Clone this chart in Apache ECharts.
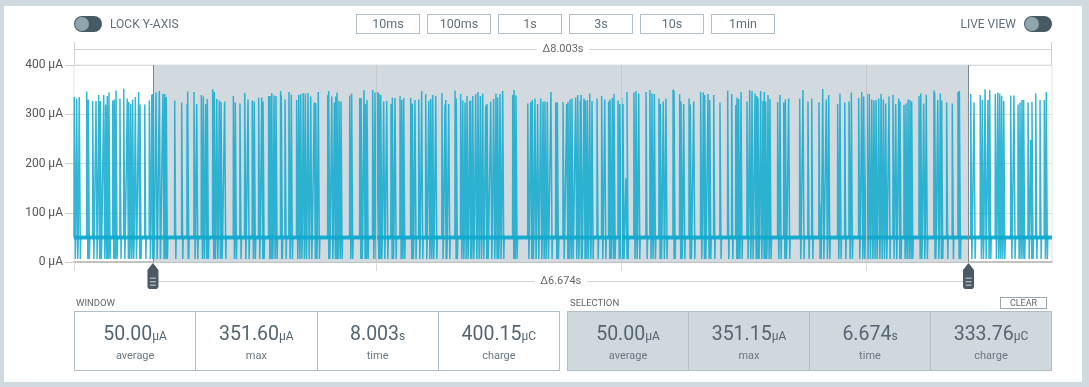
<!DOCTYPE html>
<html><head><meta charset="utf-8">
<script src="https://cdn.jsdelivr.net/npm/echarts@6/dist/echarts.min.js"></script>
<style>
html,body{margin:0;padding:0}
body{width:1089px;height:387px;background:#d0d9de;font-family:Roboto,"Noto Sans",sans-serif;overflow:hidden;position:relative}
#panel{position:absolute;left:4px;top:6px;width:1078px;height:376px;background:#fff}
#chart{position:absolute;left:0;top:0;width:1089px;height:387px}
.ui{position:absolute;z-index:5}
.toggle{position:absolute;width:28px;height:16px;border-radius:8px;background:#455a64;top:16px}
.knob{position:absolute;left:1px;top:1px;width:14px;height:14px;border-radius:50%;background:#90a4ae}
.tlabel{position:absolute;top:16px;line-height:16px;font-size:12px;color:#5f6f7a}
.btn{position:absolute;top:14px;width:64px;height:20px;box-sizing:border-box;border:1px solid #b0bec5;font-size:12.5px;color:#5f6f7a;text-align:center;line-height:18px}
.slabel{position:absolute;top:297px;font-size:9.5px;color:#666;line-height:12px}
.box{position:absolute;top:311px;height:60px;box-sizing:border-box;border:1px solid #b0bec5;display:flex}
.cell{flex:1;text-align:center;border-left:1px solid #b0bec5;position:relative}
.cell:first-child{border-left:none}
.val{position:absolute;left:0;right:0;top:10px;font-size:19.5px;color:#55656f;line-height:24px}
.val span{font-size:12px}
.lab{position:absolute;left:0;right:0;top:37px;font-size:11px;color:#6a7780;line-height:14px}
.clear{position:absolute;left:1000px;top:297px;width:47px;height:12px;box-sizing:border-box;border:1px solid #9aa6ad;font-size:9px;color:#666;text-align:center;line-height:10px}
</style></head>
<body>
<div id="panel"></div>
<div id="chart"></div>
<div class="ui" style="left:0;top:0;width:1089px;height:387px;pointer-events:none">
  <div class="toggle" style="left:74px"><div class="knob"></div></div>
  <div class="tlabel" style="left:110px">LOCK Y-AXIS</div>
  <div class="tlabel" style="right:73px">LIVE VIEW</div>
  <div class="toggle" style="left:1024px"><div class="knob"></div></div>
  <div id="btns"></div>
  <div class="slabel" style="left:76px">WINDOW</div>
  <div class="box" id="winBox" style="left:74px;width:486px"></div>
  <div class="slabel" style="left:570px">SELECTION</div>
  <div class="clear">CLEAR</div>
  <div class="box" id="selBox" style="left:567px;width:485px;background:#cfd8dc"></div>
</div>
<script>
// ---- data ----
const windowDuration = 8.003;          // s
const selectionStart = 0.646;          // s
const selectionDuration = 6.674;       // s
const baselineUA = 50;                 // µA
const dipUA = 6;                       // µA
const yTicks = [0, 100, 200, 300, 400];
const gridTimes = [2.471, 4.476, 6.481];
const zoomButtons = ['10ms','100ms','1s','3s','10s','1min'];
const windowStats = [['50.00','µA','average'],['351.60','µA','max'],['8.003','s','time'],['400.15','µC','charge']];
const selectionStats = [['50.00','µA','average'],['351.15','µA','max'],['6.674','s','time'],['333.76','µC','charge']];

const spikeT = [0.002,0.022,0.043,0.104,0.117,0.153,0.180,0.202,0.215,0.243,
0.259,0.272,0.286,0.317,0.330,0.344,0.376,0.407,0.436,0.448,
0.464,0.480,0.502,0.529,0.540,0.579,0.616,0.636,0.644,0.671,
0.698,0.728,0.742,0.755,0.824,0.881,0.925,0.930,0.982,1.004,
1.042,1.058,1.078,1.091,1.135,1.148,1.168,1.189,1.203,1.233,
1.304,1.320,1.358,1.397,1.424,1.459,1.475,1.511,1.536,1.547,
1.593,1.604,1.618,1.637,1.653,1.691,1.696,1.727,1.759,1.778,
1.822,1.839,1.855,1.876,1.893,1.915,1.937,1.966,1.978,1.999,
2.076,2.084,2.109,2.130,2.142,2.152,2.169,2.185,2.256,2.272,
2.338,2.349,2.373,2.384,2.398,2.444,2.463,2.485,2.496,2.510,
2.534,2.559,2.594,2.605,2.627,2.668,2.682,2.698,2.755,2.768,
2.790,2.821,2.845,2.878,2.903,2.919,2.935,2.960,3.011,3.036,
3.042,3.066,3.118,3.128,3.164,3.181,3.200,3.216,3.238,3.246,
3.263,3.287,3.306,3.325,3.344,3.369,3.380,3.410,3.434,3.453,
3.467,3.486,3.508,3.590,3.601,3.617,3.713,3.737,3.750,3.772,
3.794,3.819,3.838,3.854,3.873,3.903,3.942,3.955,4.002,
4.032,4.042,4.059,4.075,4.105,4.122,4.143,4.149,4.173,4.184,
4.200,4.220,4.239,4.280,4.318,4.343,4.375,4.386,4.405,4.419,
4.452,4.466,4.482,4.492,4.517,4.525,4.582,4.599,4.621,4.681,
4.713,4.730,4.749,4.787,4.798,4.822,4.844,4.902,4.910,4.956,
4.967,4.989,5.033,5.043,5.071,5.128,5.150,5.161,5.188,5.202,
5.235,5.286,5.349,5.382,5.415,5.425,5.439,5.458,5.507,5.529,
5.548,5.573,5.587,5.597,5.619,5.638,5.649,5.660,5.679,5.695,
5.758,5.777,5.808,5.821,5.848,5.938,5.965,6.006,
6.037,6.096,6.104,6.127,6.156,6.176,6.249,6.268,6.307,6.342,
6.361,6.421,6.446,6.462,6.489,6.508,6.528,6.546,6.563,6.585,
6.604,6.623,6.642,6.669,6.702,6.724,6.749,6.759,6.792,6.808,
6.825,6.841,6.855,6.915,6.929,6.953,6.974,7.037,7.043,7.068,
7.089,7.100,7.141,7.187,7.234,7.245,7.338,7.365,7.416,7.433,
7.455,7.479,7.493,7.539,7.559,7.575,7.591,7.608,7.665,7.692,
7.725,7.741,7.757,7.771,7.807,7.829,7.839,7.870,7.905,7.940,
7.956];

const spikeV = [335,332,335,346,330,327,327,339,327,339,
320,337,344,328,330,348,332,351.6,332,325,
321,330,335,345,320,320,328,340,341,344,
347,341,341,335,328,324,321,346,345,321,
339,336,321,331,351,345,331,328,325,326,
337,324,322,343,330,328,326,334,334,326,
337,337,343,338,337,347,338,330,345,340,
329,339,341,343,342,343,336,324,323,345,
339,347,336,324,336,344,327,326,338,342,
333,333,349,321,329,349,344,345,342,339,
326,327,321,334,333,337,329,333,333,322,
329,330,347,341,327,331,339,337,343,320,
329,321,348,332,341,328,324,337,327,328,
337,341,345,337,342,318,321,326,331,342,
334,341,347,339,349,338,322,325,329,332,
321,332,326,326,325,345,325,324,325,
321,325,330,332,334,339,328,339,332,328,
329,342,327,332,337,330,326,330,333,341,
328,321,334,321,170,345,344,347,342,345,
349,342,341,332,321,326,332,350,348,341,
326,321,332,320,326,345,344,339,341,329,
339,324,348,341,319,334,331,345,326,349,
347,342,337,333,347,327,345,326,339,331,
325,339,324,330,332,332,349,326,
332,324,118,351.15,330,339,321,342,324,326,
344,333,345,336,342,341,330,328,329,332,
341,330,322,336,339,321,332,326,319,322,
330,329,326,337,342,322,340,348,344,329,
342,328,324,322,345,347,341,324,339,329,
351,329,349,341,344,342,337,327,338,338,
320,324,329,329,324,248,325,342,329,329,
345];

// ---- UI text ----
const btns = document.getElementById('btns');
zoomButtons.forEach((b,i)=>{const d=document.createElement('div');d.className='btn';d.style.left=(356+71*i)+'px';d.textContent=b;btns.appendChild(d);});
function fillBox(id, stats){
  const box=document.getElementById(id);
  stats.forEach(s=>{const c=document.createElement('div');c.className='cell';
    c.innerHTML='<div class="val">'+s[0]+'<span>'+s[1]+'</span></div><div class="lab">'+s[2]+'</div>';box.appendChild(c);});
}
fillBox('winBox', windowStats);
fillBox('selBox', selectionStats);

// ---- series data ----
const trace = [[0, baselineUA]];
for (let i=0;i<spikeT.length;i++){
  const t=spikeT[i];
  trace.push([t-0.001, baselineUA],[t, spikeV[i]],[t+0.005, spikeV[i]],[t+0.009, dipUA],[t+0.013, baselineUA]);
}
trace.push([windowDuration, baselineUA]);
const selectionEnd = selectionStart + selectionDuration;

const LINE = '#0ea9ce';
const chart = echarts.init(document.getElementById('chart'), null, {renderer:'canvas'});
chart.setOption({
  animation:false,
  backgroundColor:'transparent',
  grid:{left:74,right:37,top:65,bottom:125,show:true,borderColor:'#e2e2e2',borderWidth:1},
  xAxis:{type:'value',min:0,max:windowDuration,
    axisLine:{show:true,lineStyle:{color:'#b5b5b5',width:1.5}},
    axisTick:{show:true,length:9,customValues:[0].concat(gridTimes),lineStyle:{color:'#d5d5d5'}},
    axisLabel:{show:false},splitLine:{show:false}},
  yAxis:{type:'value',min:yTicks[0],max:yTicks[yTicks.length-1],interval:100,
    axisLine:{show:false},
    axisTick:{show:true,length:9,lineStyle:{color:'#cfcfcf'}},
    axisLabel:{formatter:'{value} µA',color:'#555',fontSize:12,fontFamily:'Roboto',margin:11},
    splitLine:{lineStyle:{color:'#dcdcdc'}}},
  series:[
    {type:'line',name:'band',data:[[0,baselineUA],[windowDuration,baselineUA]],showSymbol:false,
     lineStyle:{color:LINE,width:4,opacity:0.9},z:3,
     markArea:{silent:true,itemStyle:{color:'#d3dadf'},
       data:[[{xAxis:selectionStart},{xAxis:selectionEnd}]]},
     markLine:{silent:true,symbol:'none',label:{show:false},lineStyle:{color:'#c8c8c8',type:'solid',width:1},
       data:gridTimes.map(t=>({xAxis:t})).concat([
         {xAxis:selectionStart,lineStyle:{color:'#7f8a92',width:1}},
         {xAxis:selectionEnd,lineStyle:{color:'#7f8a92',width:1}}])}},
    {type:'line',name:'current',data:trace,showSymbol:false,sampling:null,
     lineStyle:{color:LINE,width:1.5,opacity:0.85},z:4}
  ]
});

// ---- brackets & handles (positions from the chart's scales) ----
const px = t => chart.convertToPixel({xAxisIndex:0}, t);
const py = v => chart.convertToPixel({yAxisIndex:0}, v);
const x0=px(0), x1=px(windowDuration), xs=px(selectionStart), xe=px(selectionEnd);
const yTop=py(yTicks[yTicks.length-1]), yBot=py(0);
const gcol='#c9d1d6';
function handle(x){
  const t=yBot+1;
  return {type:'group',children:[
    {type:'polygon',shape:{points:[[x,t],[x+5.5,t+7],[x+5.5,t+24],[x+4,t+26],[x-4,t+26],[x-5.5,t+24],[x-5.5,t+7]]},style:{fill:'#4a5964'}},
    {type:'rect',shape:{x:x-3,y:t+14.5,width:6,height:1.4},style:{fill:'#a7b3bb'}},
    {type:'rect',shape:{x:x-3,y:t+18,width:6,height:1.4},style:{fill:'#a7b3bb'}},
    {type:'rect',shape:{x:x-3,y:t+21.5,width:6,height:1.4},style:{fill:'#a7b3bb'}}
  ]};
}
chart.setOption({graphic:[
  {type:'line',shape:{x1:x0,y1:49.5,x2:x1,y2:49.5},style:{stroke:gcol,lineWidth:1}},
  {type:'line',shape:{x1:x0+0.5,y1:42,x2:x0+0.5,y2:yTop},style:{stroke:gcol,lineWidth:1}},
  {type:'line',shape:{x1:x1-0.5,y1:42,x2:x1-0.5,y2:yTop},style:{stroke:gcol,lineWidth:1}},
  {type:'text',x:(x0+x1)/2,y:49.5,style:{text:'Δ'+windowDuration.toFixed(3)+'s',fill:'#666',font:'11px Roboto',align:'center',verticalAlign:'middle',backgroundColor:'#fff',padding:[0,6]}},
  {type:'line',shape:{x1:xs,y1:281.5,x2:xe,y2:281.5},style:{stroke:gcol,lineWidth:1}},
  {type:'text',x:(xs+xe)/2,y:281.5,style:{text:'Δ'+selectionDuration.toFixed(3)+'s',fill:'#666',font:'11px Roboto',align:'center',verticalAlign:'middle',backgroundColor:'#fff',padding:[0,6]}},
  handle(xs), handle(xe)
]});
</script>
</body></html>
